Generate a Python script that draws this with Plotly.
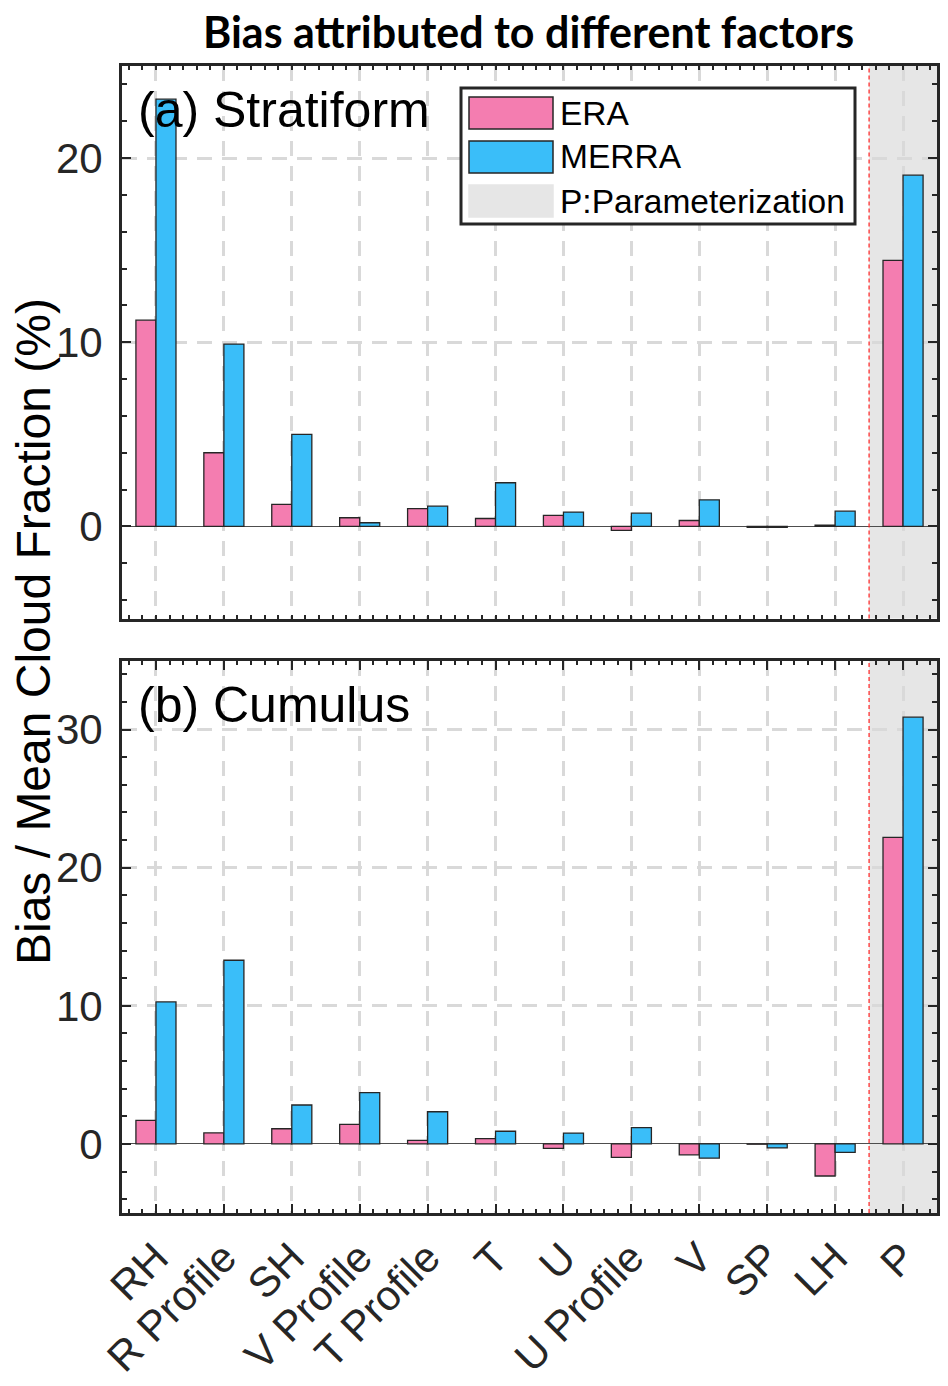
import plotly.graph_objects as go
from plotly.subplots import make_subplots

# Faktoren und Werte (Bias / mittlerer Wolkenanteil in %)
factors = ["RH", "R Profile", "SH", "V Profile", "T Profile", "T", "U",
           "U Profile", "V", "SP", "LH", "P"]
positions = list(range(1, len(factors) + 1))

era_strat = [11.2, 4.0, 1.2, 0.47, 0.97, 0.43, 0.6, -0.22, 0.32, -0.05, 0.07, 14.45]
merra_strat = [23.2, 9.9, 5.0, 0.2, 1.1, 2.37, 0.78, 0.72, 1.44, -0.05, 0.83, 19.07]

era_cum = [1.7, 0.8, 1.1, 1.42, 0.26, 0.39, -0.32, -0.97, -0.79, -0.02, -2.32, 22.2]
merra_cum = [10.28, 13.3, 2.82, 3.72, 2.33, 0.92, 0.79, 1.18, -1.03, -0.29, -0.61, 30.9]

ERA_COL = "#F47DB0"
MERRA_COL = "#3ABEF9"
GREY = "#E6E6E6"
AX = "#262626"
FONT = "Liberation Sans, Arial, sans-serif"

# Browser-Rand (8px) abziehen -> Figur etwas kleiner
OFF = 8
W, H = 948 - OFF, 1386 - OFF
L, R, T, B = 122 - OFF, 11, 66 - OFF, 173


def px(x):  # Pixel (Referenzbild) -> paper x
    return (x - OFF - L) / (W - L - R)


def py(y):  # Pixel (Referenzbild) -> paper y
    return (H - B - (y - OFF)) / (H - T - B)


fig = make_subplots(rows=2, cols=1, vertical_spacing=(660 - 618) / (H - T - B))

for row, era, merra in [(1, era_strat, merra_strat), (2, era_cum, merra_cum)]:
    fig.add_trace(go.Bar(x=positions, y=era, name="ERA", marker_color=ERA_COL,
                         marker_line=dict(color=AX, width=1.3), showlegend=False),
                  row=row, col=1)
    fig.add_trace(go.Bar(x=positions, y=merra, name="MERRA", marker_color=MERRA_COL,
                         marker_line=dict(color=AX, width=1.3), showlegend=False),
                  row=row, col=1)

axis_common = dict(
    showline=True, linewidth=3, linecolor=AX, mirror="allticks",
    ticks="inside", tickcolor=AX, tickwidth=2,
    showgrid=True, gridcolor="#D9D9D9", gridwidth=2.5, griddash="15px,10px",
    tickfont=dict(family=FONT, size=42, color=AX),
)

for row in (1, 2):
    fig.update_xaxes(range=[0.5, 12.5], tickmode="array", tickvals=positions,
                     ticktext=factors if row == 2 else [""] * len(factors),
                     showticklabels=(row == 2), tickangle=-45, ticklen=9,
                     minor=dict(ticks="inside", dtick=0.2, tick0=0, ticklen=4,
                                tickcolor=AX, tickwidth=2, showgrid=False),
                     zeroline=False, automargin=False,
                     row=row, col=1, **axis_common)

fig.update_yaxes(range=[-5, 25], dtick=10, row=1, col=1)
fig.update_yaxes(range=[-5, 35], dtick=10, row=2, col=1)
fig.update_yaxes(ticklen=9, ticklabelstandoff=8, automargin=False,
                 zeroline=True, zerolinecolor="#4D4D4D", zerolinewidth=1,
                 minor=dict(ticks="inside", dtick=2, tick0=0, ticklen=5,
                            tickcolor=AX, tickwidth=2, showgrid=False),
                 **axis_common)

# Parametrisierungsbereich grau hinterlegt, rote gestrichelte Trennlinie
for xref, yref in [("x", "y domain"), ("x2", "y2 domain")]:
    fig.add_shape(type="rect", x0=11.5, x1=12.5, y0=0, y1=1, xref=xref, yref=yref,
                  fillcolor=GREY, line_width=0, layer="below")
    fig.add_shape(type="line", x0=11.5, x1=11.5, y0=0, y1=1, xref=xref, yref=yref,
                  line=dict(color="#FF2020", width=1.2, dash="4px,3px"), layer="above")

# Titel als Annotation
fig.add_annotation(x=px(528), y=py(32), xref="paper", yref="paper",
                   text="<b>Bias attributed to different factors</b>",
                   showarrow=False, xanchor="center", yanchor="middle",
                   font=dict(family="Lato, sans-serif", size=43, color="black"))

# Panel-Beschriftungen
fig.add_annotation(x=px(136), y=py(110), xref="paper", yref="paper", text="(a) Stratiform",
                   showarrow=False, xanchor="left", yanchor="middle",
                   font=dict(family=FONT, size=50, color="black"))
fig.add_annotation(x=px(136), y=py(705), xref="paper", yref="paper", text="(b) Cumulus",
                   showarrow=False, xanchor="left", yanchor="middle",
                   font=dict(family=FONT, size=50, color="black"))

# Legende von Hand (große Farbfelder wie im Original)
fig.add_shape(type="rect", xref="paper", yref="paper", x0=px(461), x1=px(855),
              y0=py(224), y1=py(88), fillcolor="white", line=dict(color=AX, width=3),
              layer="above")
legend_items = [("ERA", ERA_COL, AX, 113), ("MERRA", MERRA_COL, AX, 157),
                ("P:Parameterization", GREY, GREY, 201)]
for label, fill, edge, yc in legend_items:
    fig.add_shape(type="rect", xref="paper", yref="paper", x0=px(469), x1=px(553),
                  y0=py(yc + 16), y1=py(yc - 16), fillcolor=fill,
                  line=dict(color=edge, width=1.5), layer="above")
    fig.add_annotation(x=px(558), y=py(yc), xref="paper", yref="paper", text=label,
                       showarrow=False, xanchor="left", yanchor="middle",
                       font=dict(family=FONT, size=33.5, color="black"))

# gemeinsame y-Achsenbeschriftung
fig.add_annotation(x=px(33), y=py(632), xref="paper", yref="paper",
                   text="Bias / Mean Cloud Fraction (%)", textangle=-90,
                   showarrow=False, xanchor="center", yanchor="middle",
                   font=dict(family=FONT, size=48, color="black"))

fig.update_layout(
    width=W, height=H,
    margin=dict(l=L, r=R, t=T, b=B),
    barmode="group", bargap=0.41, bargroupgap=0,
    plot_bgcolor="white", paper_bgcolor="white",
    showlegend=False,
)

fig.write_html("out.html")
